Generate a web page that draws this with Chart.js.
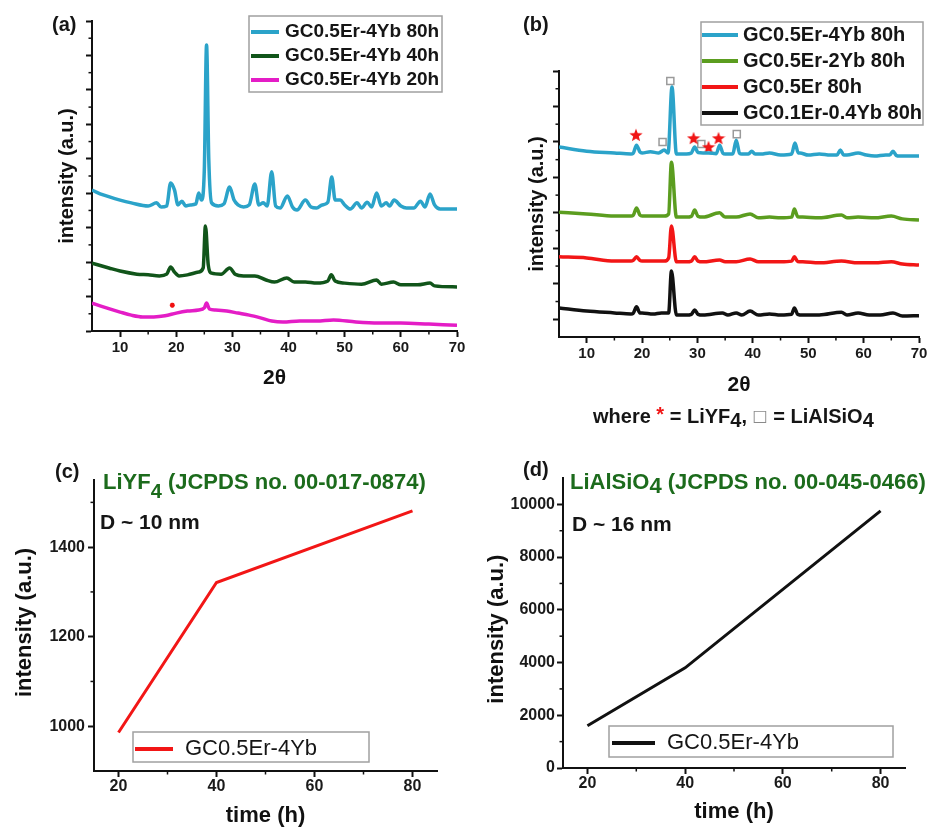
<!DOCTYPE html>
<html>
<head>
<meta charset="utf-8">
<script src="https://cdn.jsdelivr.net/npm/chart.js@4.4.1/dist/chart.umd.min.js"></script>
<style>
body{margin:0;background:#fff;width:936px;height:827px;position:relative;overflow:hidden}
canvas{position:absolute}
</style>
</head>
<body>
<canvas id="ga" style="left:0;top:0" width="468" height="400"></canvas>
<canvas id="gb" style="left:468px;top:0" width="468" height="400"></canvas>
<canvas id="gc" style="left:0;top:400px" width="468" height="427"></canvas>
<canvas id="gd" style="left:468px;top:400px" width="468" height="427"></canvas>
<script>
// (a) XRD, GC0.5Er-4Yb at 80h / 40h / 20h (offset intensities, a.u.)
const a80x = [5,7,10,12,15,16.5,17.3,18.3,19,19.7,20.3,21,21.7,22.5,23.5,24,24.5,25,25.4,25.8,26.3,27.5,28.5,29.5,30.3,31,32,33,34,34.7,35.5,36.2,37,37.7,38.5,39.8,40.7,41.5,43,44,45,46,47,47.7,48.3,49.2,50,51,52.2,53,54,54.8,55.7,56.5,57.4,58,58.8,60,61,62.3,63.5,64.3,65.2,66,67,70];
const a80y = [40.9,39.5,38.0,37.2,36.3,37.2,36.0,36.3,43.0,40.9,36.6,37.7,36.3,36.6,36.9,40.1,38.0,46.7,83.0,49.6,37.2,36.3,36.9,41.8,38.0,36.6,36.0,36.6,42.7,36.6,37.2,36.3,46.2,36.3,35.7,39.2,36.0,35.1,38.0,36.0,35.7,36.6,37.4,44.7,38.0,38.0,36.6,35.4,37.2,35.7,37.4,36.0,40.1,36.3,37.2,36.3,38.0,36.3,35.7,35.7,37.7,36.0,39.8,36.6,35.4,35.4];
const a40x = [5,8,10,13,15,17,18.3,19,19.7,20.5,22,24,24.8,25.2,25.7,26.3,28,29.5,30.5,32,34,36,37.5,39.7,41,43,45,47,47.6,48.3,50,53,55.7,56.5,58.7,60,63,65.2,66,70];
const a40y = [19.7,18.3,17.4,16.5,16.3,16.0,16.5,18.6,17.1,16.0,16.3,17.1,18.3,30.5,19.2,16.8,16.5,18.3,16.5,16.0,16.0,14.8,14.2,15.4,14.2,14.2,13.9,14.5,16.3,14.5,13.9,13.6,14.8,13.6,14.2,13.4,13.4,13.9,13.1,12.8];
const a20x = [5,7,10,12,14,16,18,20,22,24,25,25.4,25.9,27,29,31,33,35,37,39,42,45,48,52,56,60,65,70];
const a20y = [8.1,7.0,5.5,4.6,4.1,4.1,4.4,5.2,5.8,6.1,6.7,8.1,6.4,6.1,5.8,5.2,4.6,3.8,2.9,2.6,2.9,2.9,3.2,2.6,2.3,2.3,2.0,1.7];
const aStarX = [19.3];
const aStarY = [7.5];

// (b) XRD, four compositions after 80h
const b4x = [5,10,15,18,18.4,19,19.6,20,21.5,23,24,24.7,25.4,26.2,28,28.9,29.5,30.1,31,32,33.4,34,34.6,35,36,36.4,37,37.6,38,39.2,39.8,40.4,41.5,43,45,47.0,47.6,48.2,48.5,50,52,54,55.2,55.8,56.4,57,59,60.5,62,64,64.7,65.3,65.9,66.5,70];
const b4y = [48.6,47.4,46.9,46.6,46.8,49.1,47.2,46.9,47.2,46.9,47.7,46.9,65.5,46.6,46.6,46.9,48.6,47.0,46.9,46.9,46.7,49.1,46.8,46.6,46.6,46.7,50.5,46.8,46.6,46.6,47.4,46.6,46.6,46.9,46.3,46.6,49.7,46.9,46.9,46.3,46.6,46.3,46.3,47.7,46.3,46.3,46.9,46.3,46.0,46.3,46.3,47.4,46.2,46.0,46.0];
const b2x = [5,10,15,18,18.4,19,19.6,20,22,24,24.8,25.3,26.2,28,28.9,29.5,30.1,31,34,35,37,39.5,41,43,45,47.0,47.5,48.1,49,52,56,57,59,62,65,67,70];
const b2y = [30.2,29.7,29.1,29.1,29.3,31.4,29.4,29.1,29.1,29.1,29.7,44.3,28.8,28.8,29.0,30.8,29.0,28.8,30.0,28.8,28.8,29.7,28.6,28.8,28.6,28.8,31.1,28.9,28.8,28.6,29.4,28.6,28.8,28.6,29.1,28.3,28.0];
const b0x = [5,10,15,18,18.4,19,19.6,20,22,24,24.8,25.3,26.2,28,28.9,29.5,30.1,31,34,35,37,39.5,41,43,45,47.0,47.5,48.1,49,52,56,59,62,65,67,70];
const b0y = [17.6,17.3,16.4,16.4,16.6,17.6,16.6,16.4,16.4,16.4,17.3,26.3,16.2,16.2,16.4,17.6,16.4,16.2,16.7,16.2,16.2,17.0,16.2,16.2,16.2,16.4,17.6,16.3,16.2,15.9,16.4,15.9,15.9,16.2,15.6,15.3];
const b01x = [5,10,15,18,18.4,19,19.6,20,22,23.5,24.8,25.3,26.2,28,28.9,29.5,30.1,31,34.5,35.5,37,38,39.5,41,43,45,47.0,47.5,48.1,49,52,56,57,59,61,63,65.3,67,70];
const b01y = [3.2,2.3,1.8,1.5,1.7,3.5,1.8,1.8,1.5,1.8,1.8,13.6,1.2,1.2,1.4,2.6,1.4,1.2,1.8,1.2,1.8,1.2,2.3,1.2,1.5,1.2,1.4,3.2,1.4,1.2,1.2,2.0,1.2,1.8,1.2,1.2,1.8,0.9,1.0];
const bStarX = [18.9,29.3,32.0,33.8];
const bStarY = [52.0,51.1,48.6,51.1];
const bSqX = [23.7,25.1,30.7,37.1];
const bSqY = [50.0,67.2,49.4,52.2];

// (c), (d) peak intensity vs annealing time
const hours = [20,40,80];
const liyf4 = [986,1321,1481];
const lialsio4 = [1600,3800,9750];

// tick positions
const xrdTicks = [10,20,30,40,50,60,70];
const xrdMinor = [15,25,35,45,55,65];
const aYTicks = [0,10,20,30,40,50,60,70,80,90];
const aYMinor = [5,15,25,35,45,55,65,75,85];
const bYTicks = [0,10,20,30,40,50,60,70];
const bYMinor = [5,15,25,35,45,55,65];
const timeTicks = [20,40,60,80];
const timeMinor = [30,50,70];
const cYTicks = [1000,1200,1400];
const cYMinor = [1100,1300,1500];
const dYTicks = [0,2000,4000,6000,8000,10000];
const dYMinor = [1000,3000,5000,7000,9000];

Chart.defaults.font.family = '"Liberation Sans", Arial, sans-serif';
Chart.defaults.color = '#1a1a1a';
Chart.defaults.animation = false;

const FONT = '"Liberation Sans", Arial, sans-serif';

function pts(xs, ys) {
    return xs.map((x, i) => ({ x: x, y: ys[i] }));
}

function starImg(size, color) {
    const c = document.createElement('canvas');
    c.width = c.height = size;
    const g = c.getContext('2d');
    g.fillStyle = color;
    g.beginPath();
    for (let i = 0; i < 10; i++) {
        const r = i % 2 ? size * 0.21 : size * 0.5;
        const a = -Math.PI / 2 + i * Math.PI / 5;
        g.lineTo(size / 2 + r * Math.cos(a), size / 2 + r * Math.sin(a) + size * 0.05);
    }
    g.closePath();
    g.fill();
    return c;
}

//小さい目盛り
const minorTicks = {
    id: 'minorTicks',
    afterDraw(chart, args, o) {
        const ctx = chart.ctx;
        ctx.save();
        ctx.strokeStyle = '#111';
        ctx.lineWidth = 1.5;
        ['x', 'y'].forEach(key => {
            if (!o[key]) return;
            const sc = chart.scales[key];
            o[key].forEach(v => {
                const p = sc.getPixelForValue(v);
                ctx.beginPath();
                if (key == 'x') { ctx.moveTo(p, sc.top); ctx.lineTo(p, sc.top + 3.5); }
                else { ctx.moveTo(sc.right, p); ctx.lineTo(sc.right - 3.5, p); }
                ctx.stroke();
            });
        });
        ctx.restore();
    }
};

//枠付き凡例
const boxLegend = {
    id: 'boxLegend',
    afterDraw(chart, args, o) {
        if (!o.items) return;
        const ctx = chart.ctx;
        ctx.save();
        ctx.strokeStyle = '#a0a0a0';
        ctx.lineWidth = 1.5;
        ctx.strokeRect(o.x, o.y, o.w, o.h);
        ctx.font = o.font;
        ctx.textBaseline = 'middle';
        ctx.fillStyle = '#151515';
        o.items.forEach((idx, k) => {
            const ds = chart.data.datasets[idx];
            const y = o.y + o.top + k * o.gap;
            ctx.strokeStyle = ds.borderColor;
            ctx.lineWidth = 4;
            ctx.beginPath();
            ctx.moveTo(o.x + o.pad, y);
            ctx.lineTo(o.x + o.pad + o.len, y);
            ctx.stroke();
            ctx.fillText(ds.label, o.x + o.pad + o.len + o.space, y);
        });
        ctx.restore();
    }
};

//注記テキスト
const notes = {
    id: 'notes',
    afterDraw(chart, args, o) {
        const ctx = chart.ctx;
        (o.list || []).forEach(n => {
            ctx.save();
            ctx.textBaseline = 'middle';
            ctx.textAlign = 'left';
            let x = n.x;
            n.parts.forEach(p => {
                ctx.font = p.font || n.font;
                ctx.fillStyle = p.c || n.c || '#151515';
                ctx.fillText(p.s, x, n.y + (p.dy || 0));
                x += ctx.measureText(p.s).width;
            });
            ctx.restore();
        });
    }
};

function scaleCfg(s) {
    return {
        type: 'linear',
        min: s.min,
        max: s.max,
        afterBuildTicks: sc => { sc.ticks = s.ticks.map(v => ({ value: v })); },
        afterFit: sc => {
            if (sc.isHorizontal()) sc.height = s.size; else sc.width = s.size;
        },
        border: { display: true, color: '#111', width: 2 },
        grid: { drawOnChartArea: false, drawTicks: true, tickLength: 6, tickWidth: 2, tickColor: '#111' },
        ticks: {
            display: s.labels !== false,
            font: { size: s.fs || 15, weight: 'bold' },
            color: '#1a1a1a',
            padding: s.tpad == null ? 2 : s.tpad,
            maxRotation: 0,
            autoSkip: false,
            callback: v => String(v)
        },
        title: {
            display: true,
            text: s.title,
            color: '#111',
            font: { size: s.titleSize, weight: 'bold', lineHeight: 1 },
            padding: s.titlePad
        }
    };
}

function makeChart(id, datasets, c) {
    return new Chart(document.getElementById(id), {
        type: 'line',
        data: { datasets: datasets },
        options: {
            responsive: false,
            animation: false,
            layout: { padding: c.padding },
            scales: { x: scaleCfg(c.x), y: scaleCfg(c.y) },
            plugins: {
                legend: { display: false },
                tooltip: { enabled: false },
                minorTicks: c.minor,
                boxLegend: c.legend,
                notes: { list: c.notes }
            }
        },
        plugins: [minorTicks, boxLegend, notes]
    });
}

function xrdLine(label, xs, ys, color) {
    return {
        label: label,
        data: pts(xs, ys),
        borderColor: color,
        backgroundColor: color,
        borderWidth: 3.5,
        pointRadius: 0,
        cubicInterpolationMode: 'monotone'
    };
}

function markers(xs, ys, style, extra) {
    return Object.assign({
        label: '',
        data: pts(xs, ys),
        showLine: false,
        pointStyle: style,
        pointRadius: 5
    }, extra);
}

const bold = s => 'bold ' + s + 'px ' + FONT;
const GREEN_TXT = '#1c6b1c';

// (a)
makeChart('ga', [
    xrdLine('GC0.5Er-4Yb 80h', a80x, a80y, '#2ba3c9'),
    xrdLine('GC0.5Er-4Yb 40h', a40x, a40y, '#11551a'),
    xrdLine('GC0.5Er-4Yb 20h', a20x, a20y, '#e41dc6'),
    markers(aStarX, aStarY, 'star', { pointRadius: 2.5, borderColor: '#f01010', borderWidth: 1.5 })
], {
    padding: { left: 0, top: 21, right: 11, bottom: 0 },
    x: { min: 5, max: 70, ticks: xrdTicks, size: 69, fs: 15, title: '2θ', titleSize: 21, titlePad: { top: 0, bottom: 11 } },
    y: { min: 0, max: 90, ticks: aYTicks, size: 92, labels: false, title: 'intensity (a.u.)', titleSize: 20, titlePad: { top: 57, bottom: 0 } },
    minor: { x: xrdMinor, y: aYMinor },
    legend: { items: [0, 1, 2], x: 249, y: 16, w: 193, h: 76, top: 16, gap: 24, pad: 2, len: 28, space: 6, font: bold(19) },
    notes: [{ x: 52, y: 25, font: bold(20), parts: [{ s: '(a)' }] }]
});

// (b)
makeChart('gb', [
    xrdLine('GC0.5Er-4Yb 80h', b4x, b4y, '#2ba3c9'),
    xrdLine('GC0.5Er-2Yb 80h', b2x, b2y, '#5b9d1f'),
    xrdLine('GC0.5Er 80h', b0x, b0y, '#f21616'),
    xrdLine('GC0.1Er-0.4Yb 80h', b01x, b01y, '#111111'),
    markers(bStarX, bStarY, starImg(14, '#f01515')),
    markers(bSqX, bSqY, 'rect', { pointRadius: 5, borderColor: '#9a9a9a', backgroundColor: '#ffffff', borderWidth: 1.5 })
], {
    padding: { left: 0, top: 71, right: 17, bottom: 0 },
    x: { min: 5, max: 70, ticks: xrdTicks, size: 63, fs: 15, title: '2θ', titleSize: 21, titlePad: { top: 0, bottom: 4.5 } },
    y: { min: -5, max: 70, ticks: bYTicks, size: 91, labels: false, title: 'intensity (a.u.)', titleSize: 20, titlePad: { top: 59, bottom: 0 } },
    minor: { x: xrdMinor, y: bYMinor },
    legend: { items: [0, 1, 2, 3], x: 233, y: 22, w: 222, h: 103, top: 13, gap: 26, pad: 1, len: 36, space: 5, font: bold(20) },
    notes: [{ x: 55, y: 25, font: bold(20), parts: [{ s: '(b)' }] }]
});

// (c)
makeChart('gc', [{
    label: 'GC0.5Er-4Yb',
    data: pts(hours, liyf4),
    borderColor: '#f21616',
    borderWidth: 3,
    pointRadius: 0,
    tension: 0
}], {
    padding: { left: 0, top: 80, right: 31, bottom: 0 },
    x: { min: 15, max: 85, ticks: timeTicks, size: 56, fs: 16, tpad: 0, title: 'time (h)', titleSize: 22, titlePad: { top: 0, bottom: 0 } },
    y: { min: 900, max: 1550, ticks: cYTicks, size: 94, fs: 16, tpad: 3, title: ' intensity (a.u.)', titleSize: 22, titlePad: { top: 14, bottom: 0 } },
    minor: { x: timeMinor, y: cYMinor },
    legend: { items: [0], x: 133, y: 332, w: 236, h: 30, top: 17, gap: 0, pad: 2, len: 38, space: 12, font: '22px ' + FONT },
    notes: [
        { x: 55, y: 72, font: bold(20), parts: [{ s: '(c)' }] },
        { x: 103, y: 83, font: bold(22), c: GREEN_TXT, parts: [{ s: 'LiYF' }, { s: '4', dy: 9, font: bold(20) }, { s: ' (JCPDS no. 00-017-0874)' }] },
        { x: 100, y: 123, font: bold(21), parts: [{ s: 'D ~ 10 nm' }] }
    ]
});

// (d)
makeChart('gd', [{
    label: 'GC0.5Er-4Yb',
    data: pts(hours, lialsio4),
    borderColor: '#111111',
    borderWidth: 3,
    pointRadius: 0,
    tension: 0
}], {
    padding: { left: 0, top: 78, right: 31, bottom: 0 },
    x: { min: 15, max: 85, ticks: timeTicks, size: 59, fs: 16, tpad: 0, title: 'time (h)', titleSize: 22, titlePad: { top: 0, bottom: 4 } },
    y: { min: 0, max: 11000, ticks: dYTicks, size: 95, fs: 16, tpad: 2, title: 'intensity (a.u.)  ', titleSize: 22, titlePad: { top: 18, bottom: 0 } },
    minor: { x: timeMinor, y: dYMinor },
    legend: { items: [0], x: 141, y: 326, w: 284, h: 31, top: 17, gap: 0, pad: 3, len: 43, space: 12, font: '22px ' + FONT },
    notes: [
        { x: 125, y: 17, font: bold(20), parts: [
            { s: 'where ' }, { s: '*', c: '#f01515', dy: -2 }, { s: ' = LiYF' }, { s: '4', dy: 4 }, { s: ', ' },
            { s: '□', c: '#8a8a8a', font: '16px "DejaVu Sans"' }, { s: ' = LiAlSiO' }, { s: '4', dy: 4 }
        ] },
        { x: 55, y: 70, font: bold(20), parts: [{ s: '(d)' }] },
        { x: 102, y: 83, font: bold(22), c: GREEN_TXT, parts: [{ s: 'LiAlSiO' }, { s: '4', dy: 4 }, { s: ' (JCPDS no. 00-045-0466)' }] },
        { x: 104, y: 125, font: bold(21), parts: [{ s: 'D ~ 16 nm' }] }
    ]
});
</script>
</body>
</html>
